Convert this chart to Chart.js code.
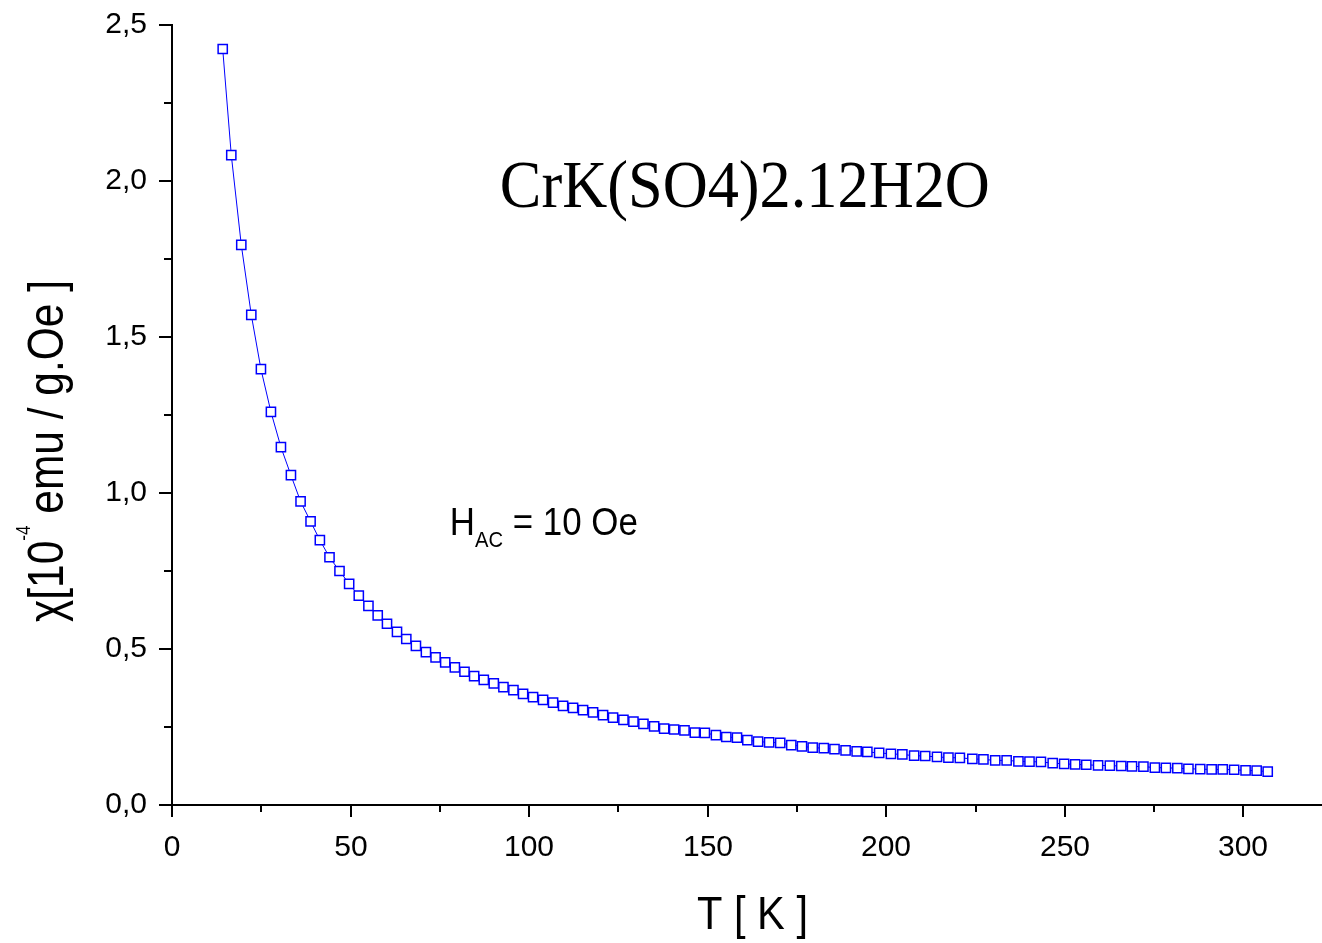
<!DOCTYPE html>
<html>
<head>
<meta charset="utf-8">
<script src="https://cdn.jsdelivr.net/npm/chart.js@4.4.1/dist/chart.umd.min.js"></script>
<style>
  html, body { margin: 0; padding: 0; background: #fff; }
  #wrap { width: 1322px; height: 943px; }
</style>
</head>
<body>
<div id="wrap"><canvas id="chart"></canvas></div>
<script>
// T [K]
const temperatures = [14.2, 16.6, 19.4, 22.2, 24.9, 27.7, 30.5, 33.3, 36.0, 38.8,
  41.4, 44.1, 46.9, 49.6, 52.3, 55.0, 57.6, 60.2, 63.0, 65.6,
  68.3, 71.1, 73.8, 76.5, 79.2, 81.9, 84.6, 87.3, 90.1, 92.8,
  95.6, 98.3, 101.1, 103.9, 106.7, 109.5, 112.3, 115.1, 117.9, 120.7,
  123.5, 126.4, 129.2, 132.0, 135.0, 137.8, 140.6, 143.5, 146.4, 149.2,
  152.3, 155.2, 158.2, 161.1, 164.1, 167.2, 170.3, 173.4, 176.4, 179.4,
  182.5, 185.5, 188.6, 191.7, 194.7, 198.0, 201.3, 204.5, 207.8, 210.9,
  214.2, 217.4, 220.6, 224.1, 227.2, 230.5, 233.7, 237.0, 240.1, 243.3,
  246.6, 249.8, 252.9, 256.0, 259.3, 262.6, 265.8, 268.8, 272.0, 275.2,
  278.3, 281.5, 284.6, 287.9, 291.1, 294.2, 297.4, 300.6, 303.7, 306.8];

// chi [1e-4 emu / g.Oe]
const chiValues = [2.423, 2.083, 1.795, 1.571, 1.397, 1.260, 1.147, 1.057, 0.973, 0.909,
  0.849, 0.794, 0.750, 0.709, 0.671, 0.638, 0.608, 0.581, 0.555, 0.532,
  0.510, 0.490, 0.473, 0.457, 0.441, 0.427, 0.413, 0.401, 0.390, 0.378,
  0.368, 0.356, 0.346, 0.337, 0.328, 0.318, 0.311, 0.304, 0.297, 0.288,
  0.280, 0.273, 0.267, 0.260, 0.252, 0.245, 0.242, 0.239, 0.232, 0.231,
  0.224, 0.218, 0.216, 0.208, 0.203, 0.201, 0.199, 0.192, 0.188, 0.184,
  0.182, 0.179, 0.175, 0.172, 0.170, 0.167, 0.164, 0.162, 0.158, 0.157,
  0.154, 0.152, 0.151, 0.148, 0.146, 0.143, 0.143, 0.140, 0.139, 0.138,
  0.134, 0.132, 0.130, 0.129, 0.127, 0.126, 0.125, 0.124, 0.123, 0.120,
  0.119, 0.118, 0.116, 0.115, 0.114, 0.114, 0.113, 0.111, 0.110, 0.107];

const xTickLabels = ['0', '50', '100', '150', '200', '250', '300'];
const yTickLabels = ['0,0', '0,5', '1,0', '1,5', '2,0', '2,5'];

const chartTitle = 'CrK(SO4)2.12H2O';
const xTitle = 'T [ K ]';
const yTitleParts = ['\u03c7[10', '-4', ' emu / g.Oe ]'];
const fieldParts = ['H', 'AC', ' = 10 Oe'];

const SANS = '"Liberation Sans", Arial, sans-serif';
const SERIF = '"Liberation Serif", "Times New Roman", serif';

// pedazos de texto con fuente y desplazamiento propios, comprimidos a un ancho dado
function drawParts(ctx, parts, width) {
  let total = 0;
  parts.forEach(p => { ctx.font = p.font; total += ctx.measureText(p.text).width; });
  const sx = width / total;
  ctx.save();
  ctx.scale(sx, 1);
  let x = 0;
  parts.forEach(p => {
    ctx.font = p.font;
    ctx.fillText(p.text, x, p.dy || 0);
    x += ctx.measureText(p.text).width;
  });
  ctx.restore();
}

function isMajor(value, step) {
  const r = value / step;
  return Math.abs(r - Math.round(r)) < 1e-6;
}

const decorPlugin = {
  id: 'decor',
  afterDraw(chart) {
    const ctx = chart.ctx;
    const xs = chart.scales.x, ys = chart.scales.y;
    ctx.save();
    ctx.strokeStyle = '#000';
    ctx.fillStyle = '#000';
    ctx.lineWidth = 2;

    // marcas y etiquetas de los ejes
    ctx.font = '30px ' + SANS;
    ctx.textAlign = 'center';
    ctx.textBaseline = 'middle';
    xs.ticks.forEach(t => {
      const px = Math.round(xs.getPixelForValue(t.value));
      const major = isMajor(t.value, 50);
      const len = major ? 12 : 7;
      ctx.beginPath(); ctx.moveTo(px, ys.bottom); ctx.lineTo(px, ys.bottom + len); ctx.stroke();
      if (major) ctx.fillText(xTickLabels[Math.round(t.value / 50)], px, ys.bottom + 43);
    });
    ctx.textAlign = 'right';
    ys.ticks.forEach(t => {
      const py = Math.round(ys.getPixelForValue(t.value));
      const major = isMajor(t.value, 0.5);
      const len = major ? 13 : 8;
      ctx.beginPath(); ctx.moveTo(xs.left, py); ctx.lineTo(xs.left - len, py); ctx.stroke();
      if (major) ctx.fillText(yTickLabels[Math.round(t.value / 0.5)], xs.left - 25, py);
    });

    ctx.textBaseline = 'alphabetic';
    ctx.textAlign = 'left';

    // titulo del compuesto
    ctx.save();
    ctx.translate(xs.getPixelForValue(91.8), ys.getPixelForValue(1.917));
    drawParts(ctx, [{ text: chartTitle, font: '67px ' + SERIF }], 490);
    ctx.restore();

    // H_AC
    ctx.save();
    ctx.translate(xs.getPixelForValue(77.8), ys.getPixelForValue(0.865));
    drawParts(ctx, [
      { text: fieldParts[0], font: '38px ' + SANS },
      { text: fieldParts[1], font: '22px ' + SANS, dy: 12 },
      { text: fieldParts[2], font: '38px ' + SANS }
    ], 188);
    ctx.restore();

    // titulo eje x
    ctx.save();
    ctx.translate(697, 929);
    drawParts(ctx, [{ text: xTitle, font: '47px ' + SANS }], 111);
    ctx.restore();

    // titulo eje y, girado
    ctx.save();
    ctx.translate(63, 622);
    ctx.rotate(-Math.PI / 2);
    drawParts(ctx, [
      { text: yTitleParts[0], font: '50px ' + SANS },
      { text: yTitleParts[1], font: '20px ' + SANS, dy: -33 },
      { text: yTitleParts[2], font: '50px ' + SANS }
    ], 342);
    ctx.restore();

    ctx.restore();
  }
};

const ctx = document.getElementById('chart').getContext('2d');
new Chart(ctx, {
  type: 'line',
  data: {
    datasets: [{
      data: temperatures.map((t, i) => ({ x: t, y: chiValues[i] })),
      borderColor: '#0000ff',
      borderWidth: 1,
      tension: 0,
      pointStyle: 'rect',
      pointRadius: 6.5,
      pointBorderWidth: 1.5,
      pointBorderColor: '#0000ff',
      pointBackgroundColor: '#ffffff',
      fill: false
    }]
  },
  options: {
    responsive: true,
    maintainAspectRatio: false,
    animation: false,
    layout: { autoPadding: false, padding: { left: 0, top: 25, right: 0, bottom: 0 } },
    plugins: { legend: { display: false }, tooltip: { enabled: false } },
    scales: {
      x: {
        type: 'linear',
        min: 0, max: 322,
        grid: { display: false, drawTicks: false },
        border: { display: true, color: '#000', width: 2 },
        ticks: { stepSize: 25, includeBounds: false, autoSkip: false, display: false },
        afterFit: s => { s.height = 138; }
      },
      y: {
        min: 0, max: 2.5,
        grid: { display: false, drawTicks: false },
        border: { display: true, color: '#000', width: 2 },
        ticks: { stepSize: 0.25, autoSkip: false, display: false },
        afterFit: s => { s.width = 172; }
      }
    }
  },
  plugins: [decorPlugin]
});
</script>
</body>
</html>
